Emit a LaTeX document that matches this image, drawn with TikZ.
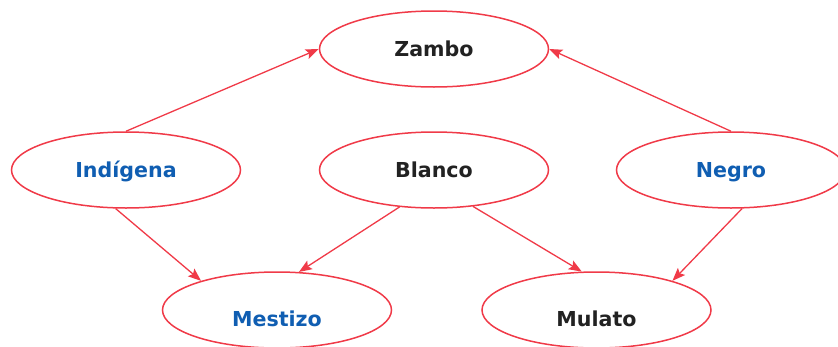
\documentclass[tikz,border=0pt]{standalone}
\usepackage{fontspec}
\setmainfont{DejaVu Sans}
\usetikzlibrary{shapes.geometric,arrows.meta}
\definecolor{linered}{RGB}{240,58,72}
\definecolor{txtblue}{RGB}{16,94,178}
\definecolor{txtdark}{RGB}{34,34,34}
\tikzset{
  oval/.style={ellipse, draw=linered, line width=1.5pt, fill=white,
    minimum width=229pt, minimum height=76pt, inner sep=0pt,
    font=\fontsize{20.6}{24}\selectfont\bfseries,
    text height=15pt, text depth=0pt},
  lbl/.style={inner sep=0pt, font=\fontsize{20.6}{24}\selectfont\bfseries,
    text height=15pt, text depth=0pt},
  bluetxt/.style={text=txtblue},
  darktxt/.style={text=txtdark},
  link/.style={draw=linered, line width=1.3pt,
    -{Stealth[length=13pt,width=10pt,inset=2.5pt]}}
}
\begin{document}
\begin{tikzpicture}[x=1pt,y=-1pt]
\useasboundingbox (0,0) rectangle (838,346);
\node[oval,darktxt] (zam) at (434,49) {Zambo};
\node[oval,bluetxt] (ind) at (126,170) {Indígena};
\node[oval,darktxt] (bla) at (434,170) {Blanco};
\node[oval,bluetxt] (neg) at (731,170) {Negro};
\node[oval] (mes) at (277,310) {};
\node[oval] (mul) at (596.5,310) {};
\node[lbl,bluetxt] (mesT) at (277,319) {Mestizo};
\node[lbl,darktxt] (mulT) at (596.5,319) {Mulato};
\draw[link] (ind.north) -- (zam.west);
\draw[link] (neg.north) -- (zam.east);
\draw[link] (ind.255) -- (mes.159);
\draw[link] (bla.227) -- (mes.60);
\draw[link] (bla.317) -- (mul.111);
\draw[link] (neg.286) -- (mul.21);
\end{tikzpicture}
\end{document}
